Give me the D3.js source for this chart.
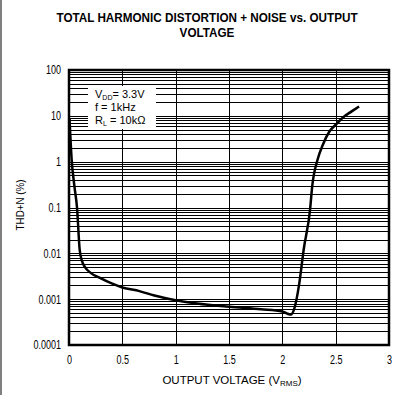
<!DOCTYPE html>
<html><head><meta charset="utf-8">
<script src="https://cdn.jsdelivr.net/npm/d3@7"></script>
<style>
html,body{margin:0;padding:0;background:#fff;}
svg{display:block;}
</style></head>
<body>
<svg id="c" width="404" height="395"></svg>
<script>
const voltage = [0.005, 0.025, 0.05, 0.075, 0.1, 0.12, 0.15, 0.2, 0.29, 0.4, 0.5, 0.66, 0.8, 1.0, 1.2, 1.5, 1.8, 2.0, 2.05, 2.08, 2.11, 2.16, 2.2, 2.26, 2.28, 2.33, 2.38, 2.44, 2.5, 2.58, 2.65, 2.72];
const thdn    = [8.5, 1.1, 0.3, 0.1, 0.012, 0.007, 0.005, 0.0038, 0.0029, 0.0022, 0.0018, 0.0015, 0.0012, 0.00095, 0.0008, 0.00068, 0.0006, 0.00054, 0.00048, 0.00046, 0.0006, 0.0023, 0.012, 0.09, 0.29, 1.1, 2.35, 4.5, 6.4, 9.7, 12.5, 16];
const xTicks = [0, 0.5, 1, 1.5, 2, 2.5, 3];
const xTickLabels = ["0", "0.5", "1", "1.5", "2", "2.5", "3"];
const yTicks = [0.0001, 0.001, 0.01, 0.1, 1, 10, 100];
const yTickLabels = ["0.0001", "0.001", "0.01", "0.1", "1", "10", "100"];
const titleLines = ["TOTAL HARMONIC DISTORTION + NOISE vs. OUTPUT", "VOLTAGE"];

const svg = d3.select("#c");
const L = 69, R = 389, T = 70, B = 345;
const x = d3.scaleLinear().domain([0, 3]).range([L, R]);
const y = d3.scaleLog().domain([0.0001, 100]).range([B, T]);
const sans = "'Liberation Sans',Arial,Helvetica,sans-serif";

function condense(sel, k) {
  sel.each(function () {
    const w = this.getComputedTextLength();
    d3.select(this).attr("textLength", w * k).attr("lengthAdjust", "spacingAndGlyphs");
  });
}

// outer left frame line
svg.append("line").attr("x1", 1).attr("x2", 1).attr("y1", 0).attr("y2", 395)
  .attr("stroke", "#000").attr("stroke-width", 1);

// title
const tt = svg.append("g").selectAll("text").data(titleLines).join("text")
  .attr("x", 207).attr("y", (d, i) => 22 + i * 15)
  .attr("text-anchor", "middle")
  .attr("font-family", sans).attr("font-weight", "bold").attr("font-size", 13)
  .text(d => d);
condense(tt, 0.9);

// minor horizontal grid
const minor = [];
for (let e = -4; e < 2; e++) for (let m = 1; m <= 9; m++) minor.push(m * Math.pow(10, e));
const grid = svg.append("g");
grid.selectAll("line.h").data(minor).join("line").attr("class", "h")
  .attr("x1", L).attr("x2", R)
  .attr("y1", d => Math.round(y(d)) + 0.5).attr("y2", d => Math.round(y(d)) + 0.5)
  .attr("stroke", "#000").attr("stroke-width", 1);
grid.selectAll("line.v").data(xTicks.slice(1, -1)).join("line").attr("class", "v")
  .attr("x1", d => Math.round(x(d)) + 0.5).attr("x2", d => Math.round(x(d)) + 0.5)
  .attr("y1", T).attr("y2", B)
  .attr("stroke", "#000").attr("stroke-width", 1);

// legend box
const lg = svg.append("g");
lg.append("rect").attr("x", 88).attr("y", 86).attr("width", 68).attr("height", 43).attr("fill", "#fff");
const lfs = 11;
const l1 = lg.append("text").attr("x", 95).attr("y", 98).attr("font-family", sans).attr("font-size", lfs);
l1.append("tspan").text("V");
l1.append("tspan").attr("font-size", 7).attr("dy", 2).text("DD");
l1.append("tspan").attr("dy", -2).text("= 3.3V");
lg.append("text").attr("x", 95).attr("y", 111).attr("font-family", sans).attr("font-size", lfs).text("f = 1kHz");
const l3 = lg.append("text").attr("x", 95).attr("y", 124).attr("font-family", sans).attr("font-size", lfs);
l3.append("tspan").text("R");
l3.append("tspan").attr("font-size", 7).attr("dy", 2).text("L");
l3.append("tspan").attr("dy", -2).text(" = 10k\u03A9");

// curve
const line = d3.line().x(d => x(d[0])).y(d => y(d[1])).curve(d3.curveMonotoneX);
svg.append("path").datum(voltage.map((v, i) => [v, thdn[i]]))
  .attr("d", line).attr("fill", "none").attr("stroke", "#000").attr("stroke-width", 2.5)
  .attr("stroke-linejoin", "round");

// frame
svg.append("rect").attr("x", L).attr("y", T).attr("width", R - L).attr("height", B - T)
  .attr("fill", "none").attr("stroke", "#000").attr("stroke-width", 2.5);

// axes (labels only)
const xAxis = d3.axisBottom(x).tickValues(xTicks).tickFormat((d, i) => xTickLabels[i]).tickSize(0).tickPadding(10);
const gx = svg.append("g").attr("transform", `translate(0,${B})`).call(xAxis);
gx.select(".domain").remove();
gx.selectAll("text").attr("font-family", sans).attr("font-size", 12).attr("fill", "#000");
condense(gx.selectAll("text"), 0.75);

const yAxis = d3.axisLeft(y).tickValues(yTicks).tickFormat((d, i) => yTickLabels[i]).tickSize(0).tickPadding(8);
const gy = svg.append("g").attr("transform", `translate(${L},0)`).call(yAxis);
gy.select(".domain").remove();
gy.selectAll("text").attr("font-family", sans).attr("font-size", 12).attr("fill", "#000");
condense(gy.selectAll("text"), 0.75);

// axis titles
const xt = svg.append("text").attr("x", 232).attr("y", 384).attr("text-anchor", "middle")
  .attr("font-family", sans).attr("font-size", 11.5);
xt.append("tspan").text("OUTPUT VOLTAGE (V");
xt.append("tspan").attr("font-size", 8).attr("dy", 2).text("RMS");
xt.append("tspan").attr("dy", -2).text(")");

const yt = svg.append("text").attr("transform", "translate(24,205) rotate(-90)")
  .attr("text-anchor", "middle").attr("font-family", sans).attr("font-size", 11.5)
  .text("THD+N (%)");
condense(yt, 0.85);
</script>
</body></html>
